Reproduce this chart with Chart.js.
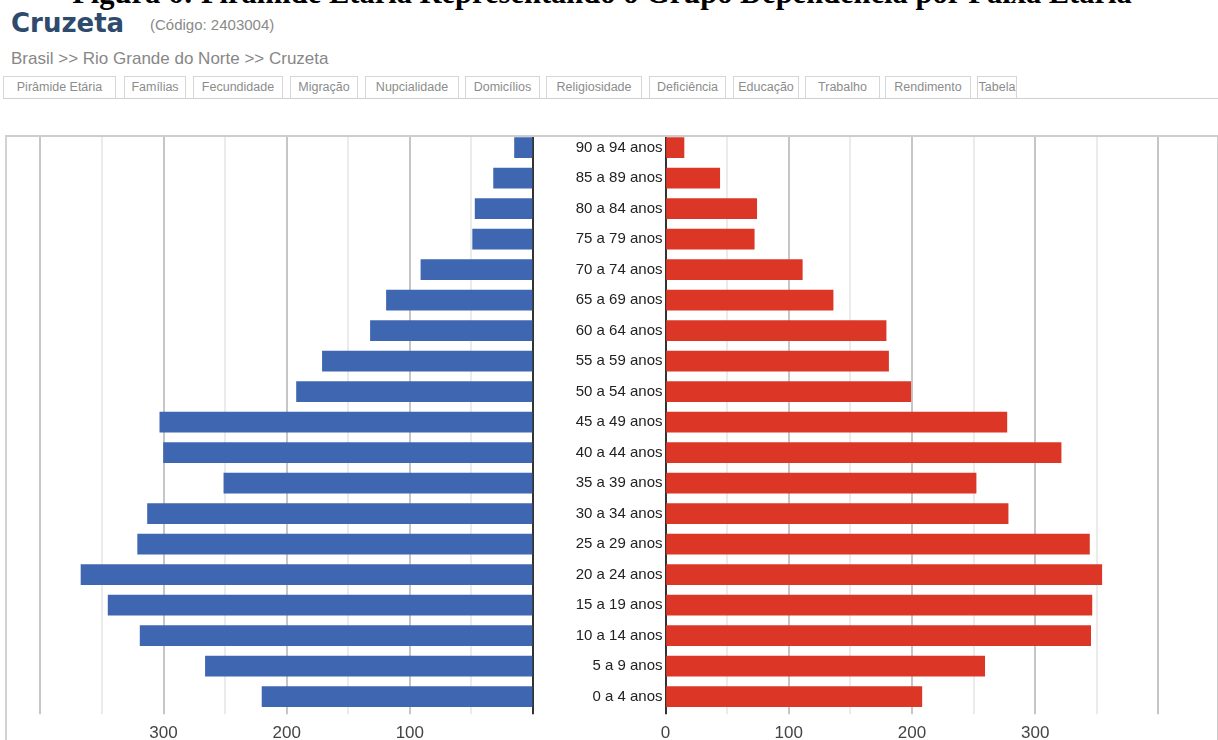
<!DOCTYPE html>
<html lang="pt-BR">
<head>
<meta charset="utf-8">
<title>Cruzeta - Pirâmide Etária</title>
<script src="https://cdn.jsdelivr.net/npm/chart.js@4/dist/chart.umd.min.js"></script>
<style>
  html, body { margin: 0; padding: 0; background: #fff; }
  body { width: 1218px; height: 740px; position: relative; overflow: hidden; font-family: "Liberation Sans", Arial, sans-serif; }
  #titulo { position: absolute; left: -7px; top: -22px; width: 1218px; text-align: center; white-space: nowrap;
            font: bold 30.5px/1 "Liberation Serif", "Times New Roman", serif; color: #000; }
  #municipio { position: absolute; left: 11px; top: 8px; font: bold 26px/1.2 "DejaVu Sans", Verdana, sans-serif; color: #2e4a6c; }
  #codigo { position: absolute; left: 150px; top: 16px; font: 15px/1.2 "Liberation Sans", Arial, sans-serif; color: #8a8a8a; }
  #trilha { position: absolute; left: 11px; top: 49px; font: 17px/1.2 "Liberation Sans", Arial, sans-serif; color: #878787; white-space: nowrap; }
  .aba { position: absolute; top: 76px; height: 22px; box-sizing: border-box; border: 1px solid #d6d6d6; border-bottom: none;
         font: 12.5px/21px "Liberation Sans", Arial, sans-serif; color: #8c8c8c; text-align: center; white-space: nowrap; background: #fff; }
  #linhaAbas { position: absolute; left: 3px; top: 98px; width: 1215px; height: 1px; background: #cfcfcf; }
  #moldura { position: absolute; left: 4.5px; top: 134.5px; width: 1213.5px; height: 640px; box-sizing: border-box;
             border-top: 2px solid #cdcdcd; border-left: 2px solid #d2d2d2; border-right: 1px solid #cdcdcd; }
  canvas { position: absolute; top: 0; }
  #graficoHomens { left: 0; }
  #graficoMulheres { left: 540px; }
</style>
</head>
<body>
<div id="titulo">Figura 6: Pirâmide Etária Representando o Grupo Dependência por Faixa Etária</div>
<div id="municipio">Cruzeta</div>
<div id="codigo">(Código: 2403004)</div>
<div id="trilha">Brasil &gt;&gt; Rio Grande do Norte &gt;&gt; Cruzeta</div>
<div id="abas"></div>
<div id="linhaAbas"></div>
<div id="moldura"></div>
<canvas id="graficoHomens" width="540" height="740"></canvas>
<canvas id="graficoMulheres" width="678" height="740"></canvas>
<script>
// Faixas etárias, de cima para baixo
const faixas = ["90 a 94 anos", "85 a 89 anos", "80 a 84 anos", "75 a 79 anos", "70 a 74 anos",
  "65 a 69 anos", "60 a 64 anos", "55 a 59 anos", "50 a 54 anos", "45 a 49 anos",
  "40 a 44 anos", "35 a 39 anos", "30 a 34 anos", "25 a 29 anos", "20 a 24 anos",
  "15 a 19 anos", "10 a 14 anos", "5 a 9 anos", "0 a 4 anos"];

// População masculina por faixa (barras azuis, à esquerda)
const homens = [15, 32, 47, 49, 91, 119, 132, 171, 192, 303, 300, 251, 313, 321, 367, 345, 319, 266, 220];

// População feminina por faixa (barras vermelhas, à direita)
const mulheres = [15, 44, 74, 72, 111, 136, 179, 181, 199, 277, 321, 252, 278, 344, 354, 346, 345, 259, 208];

// Linhas de grade do eixo horizontal e rótulos exibidos de cada lado
const marcasGrade = [0, 50, 100, 150, 200, 250, 300, 350, 400];
const rotulosHomens = [100, 200, 300];
const rotulosMulheres = [0, 100, 200, 300];

// Abas de navegação
const abas = ["Pirâmide Etária", "Famílias", "Fecundidade", "Migração", "Nupcialidade", "Domicílios",
  "Religiosidade", "Deficiência", "Educação", "Trabalho", "Rendimento", "Tabela"];
const abasPos = [[3, 113], [124, 62], [193, 90], [290, 68], [365, 94], [465, 75],
  [546, 96], [649, 77], [733, 66], [805, 75], [885, 86], [977, 40]];

const contAbas = document.getElementById('abas');
abas.forEach((nome, i) => {
  const d = document.createElement('div');
  d.className = 'aba';
  d.style.left = abasPos[i][0] + 'px';
  d.style.width = abasPos[i][1] + 'px';
  d.textContent = nome;
  contAbas.appendChild(d);
});

const azul = '#3f66b0';
const vermelho = '#dc3726';

const corGrade = (ctx) => {
  const v = ctx.tick ? ctx.tick.value : null;
  if (v === 0) return '#333333';
  return v % 100 === 0 ? '#c6c6c6' : '#ebebeb';
};

const fonteEixo = { family: '"Liberation Sans", Arial, sans-serif', size: 17 };
const fonteFaixas = { family: '"Liberation Sans", Arial, sans-serif', size: 15 };

// Remove o trecho da grade acima da moldura superior
const cortaTopo = {
  id: 'cortaTopo',
  beforeDatasetsDraw(chart) {
    chart.ctx.clearRect(0, 0, chart.width, 136.5);
  }
};

const topoArea = 132.3;
const alturaEixoX = 740 - 711.8;

function eixoX(max, reverso, visiveis) {
  return {
    type: 'linear',
    min: 0,
    max: max,
    reverse: reverso,
    afterBuildTicks: (s) => { s.ticks = marcasGrade.map((v) => ({ value: v })); },
    ticks: {
      autoSkip: false,
      maxRotation: 0,
      padding: 9,
      color: '#444',
      font: fonteEixo,
      callback: (v) => visiveis.includes(v) ? String(v) : ''
    },
    grid: { color: corGrade, lineWidth: 2, drawTicks: true, tickLength: 2.5 },
    border: { display: false },
    afterFit: (s) => { s.height = alturaEixoX; }
  };
}

new Chart(document.getElementById('graficoHomens'), {
  type: 'bar',
  data: {
    labels: faixas,
    datasets: [{ label: 'Homens', data: homens, backgroundColor: azul, barThickness: 20 }]
  },
  options: {
    indexAxis: 'y',
    responsive: false,
    animation: false,
    layout: { padding: { top: topoArea, left: 5.4, right: 7, bottom: 0 } },
    plugins: { legend: { display: false }, tooltip: { enabled: false } },
    scales: {
      x: eixoX(428.4, true, rotulosHomens),
      y: { type: 'category', display: false }
    }
  },
  plugins: [cortaTopo]
});

new Chart(document.getElementById('graficoMulheres'), {
  type: 'bar',
  data: {
    labels: faixas,
    datasets: [{ label: 'Mulheres', data: mulheres, backgroundColor: vermelho, barThickness: 20 }]
  },
  options: {
    indexAxis: 'y',
    responsive: false,
    animation: false,
    layout: { padding: { top: topoArea, left: 0, right: 1, bottom: 0 } },
    plugins: { legend: { display: false }, tooltip: { enabled: false } },
    scales: {
      x: eixoX(447.5, false, rotulosMulheres),
      y: {
        type: 'category',
        position: 'left',
        ticks: { padding: 3, color: '#222', font: fonteFaixas, autoSkip: false },
        grid: { display: false, drawTicks: false },
        border: { display: false },
        afterFit: (s) => { s.width = 125.5; }
      }
    }
  },
  plugins: [cortaTopo]
});
</script>
</body>
</html>
